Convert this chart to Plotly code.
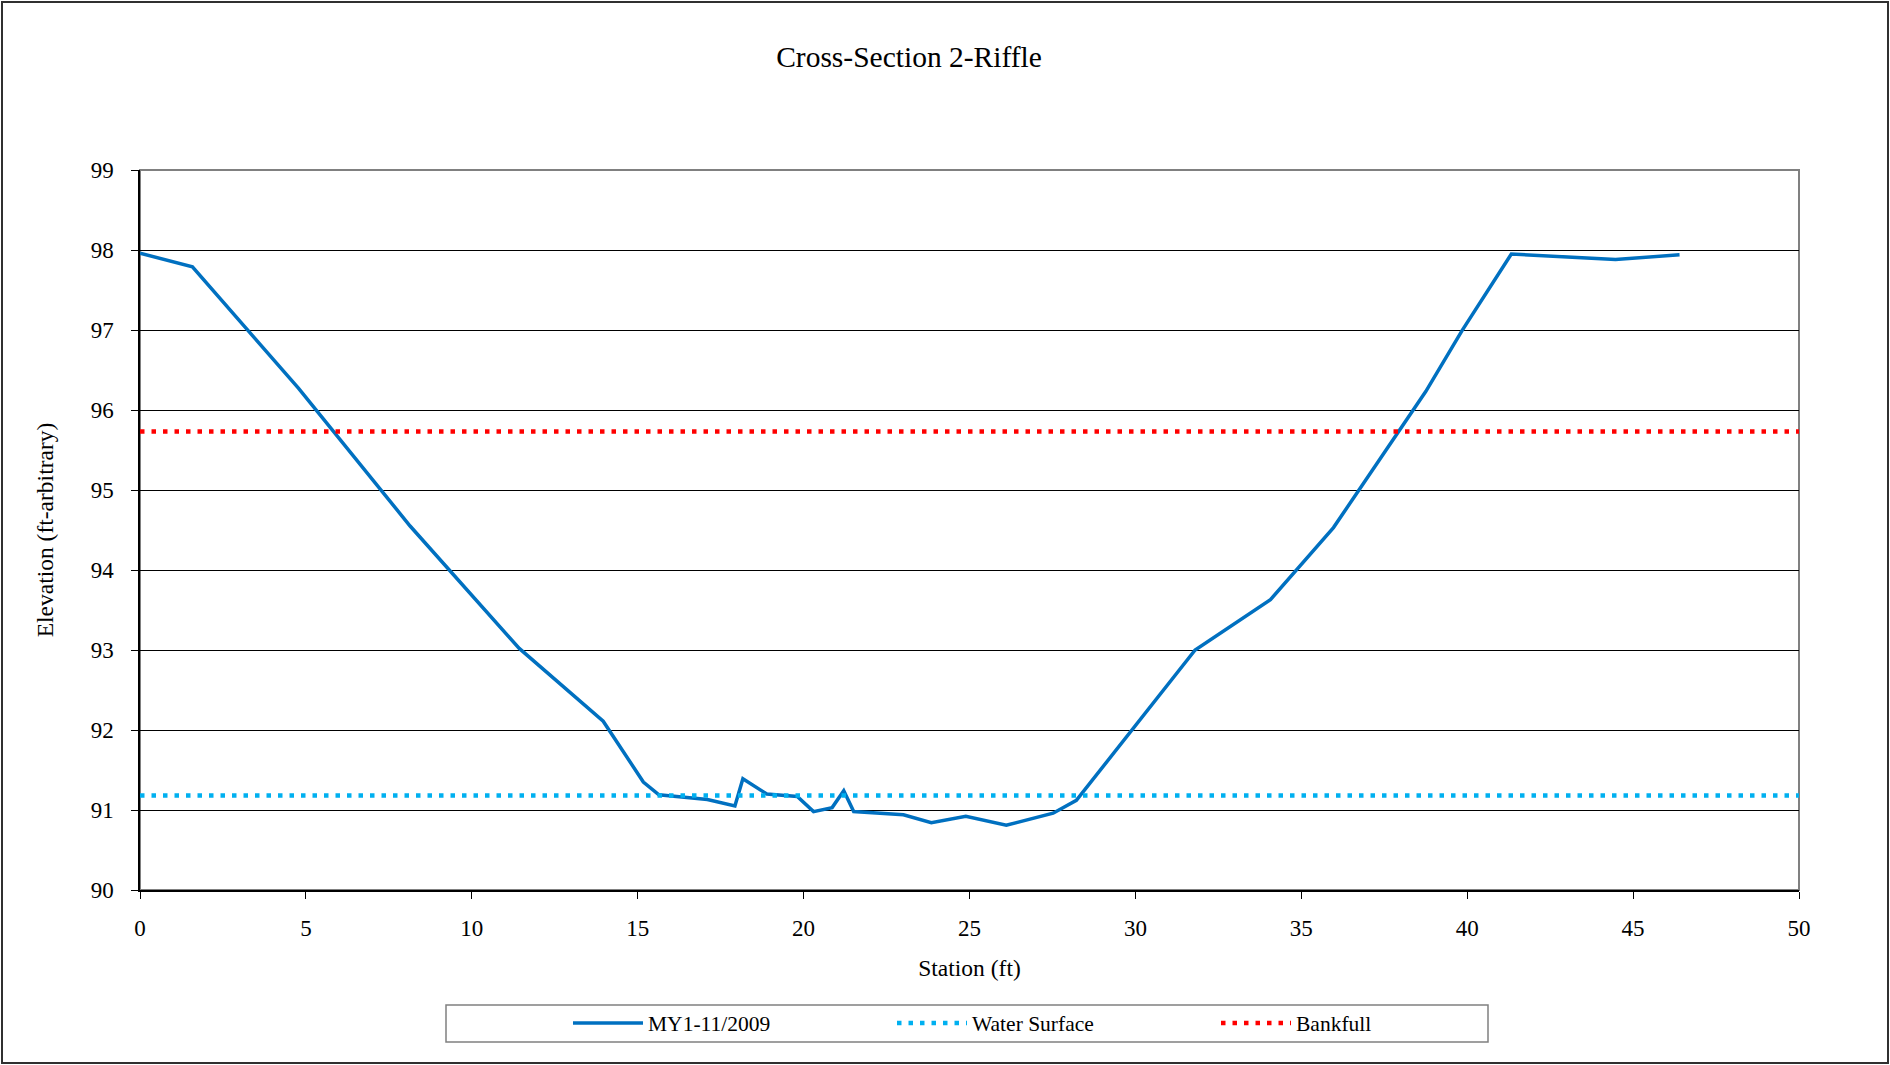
import plotly.graph_objects as go

# Surveyed cross-section (station in ft, elevation in ft-arbitrary)
station = [0.0, 1.58, 4.78, 8.14, 11.43, 13.96, 15.17, 15.64, 17.10, 17.93,
           18.17, 18.89, 19.81, 20.30, 20.86, 21.21, 21.51, 23.01, 23.85, 24.89,
           26.11, 27.52, 28.22, 31.80, 34.07, 35.97, 38.75, 39.84, 41.33, 44.47,
           46.40]
elevation = [97.96, 97.79, 96.27, 94.55, 93.02, 92.11, 91.35, 91.19, 91.13, 91.05,
             91.39, 91.20, 91.17, 90.98, 91.03, 91.24, 90.98, 90.94, 90.84, 90.92,
             90.81, 90.96, 91.12, 93.00, 93.63, 94.53, 96.23, 96.99, 97.95, 97.88,
             97.94]

# Reference levels drawn across the full station range
level_station = [0, 50]
water_surface = [91.18, 91.18]
bankfull = [95.73, 95.73]

x_ticks = [0, 5, 10, 15, 20, 25, 30, 35, 40, 45, 50]
y_ticks = [90, 91, 92, 93, 94, 95, 96, 97, 98, 99]

FONT = "Liberation Serif, Times New Roman, serif"

# plot area in pixels: x 140..1799, y 170..890
L, R, T, B = 140, 91, 170, 175
W, H = 1890, 1065
PW, PH = W - L - R, H - T - B


def px_x(p):
    return (p - L) / PW


def px_y(p):
    return (H - B - p) / PH


fig = go.Figure()
fig.add_trace(go.Scatter(
    x=station, y=elevation, mode="lines", name="MY1-11/2009",
    line=dict(color="#0070C0", width=3.5),
))
fig.add_trace(go.Scatter(
    x=level_station, y=water_surface, mode="lines", name="Water Surface",
    line=dict(color="#00B0F0", width=4.5, dash="4.5px,7px"),
))
fig.add_trace(go.Scatter(
    x=level_station, y=bankfull, mode="lines", name="Bankfull",
    line=dict(color="#FF0000", width=4.5, dash="4.5px,7px"),
))

shapes = [
    # plot-area frame (grey top/right edges)
    dict(type="rect", xref="paper", yref="paper", x0=0, y0=0, x1=1, y1=1,
         line=dict(color="#808080", width=2), layer="below"),
    # legend frame
    dict(type="rect", xref="paper", yref="paper",
         x0=px_x(446), x1=px_x(1488), y0=px_y(1042), y1=px_y(1005),
         line=dict(color="#808080", width=1.5)),
    # chart border
    dict(type="rect", xref="paper", yref="paper",
         x0=px_x(2), x1=px_x(1888), y0=px_y(1063), y1=px_y(2),
         line=dict(color="#303030", width=2)),
]

fig.update_layout(
    width=W, height=H,
    margin=dict(l=L, r=R, t=T, b=B),
    paper_bgcolor="white", plot_bgcolor="white",
    font=dict(family=FONT, color="black", size=23),
    title=dict(text="Cross-Section 2-Riffle", x=909 / W, xref="container",
               y=1 - 57 / H, yref="container", xanchor="center", yanchor="middle",
               font=dict(family=FONT, size=29.5, color="black")),
    xaxis=dict(range=[0, 50], tickvals=x_ticks, showgrid=False, zeroline=False,
               showline=True, linecolor="black", linewidth=2,
               ticks="outside", ticklen=7, tickcolor="black", tickwidth=1,
               ticklabelstandoff=9, tickfont=dict(size=23),
               title=dict(text="Station (ft)", font=dict(size=23.5), standoff=20)),
    yaxis=dict(range=[90, 99], tickvals=y_ticks, showgrid=True, gridcolor="black",
               gridwidth=1, zeroline=False,
               showline=True, linecolor="black", linewidth=1.5,
               ticks="outside", ticklen=7, tickcolor="black", tickwidth=1,
               ticklabelstandoff=13, tickfont=dict(size=23),
               title=dict(text="Elevation (ft-arbitrary)", font=dict(size=23.5), standoff=30)),
    showlegend=True,
    legend=dict(orientation="h", x=px_x(568), xanchor="left",
                y=px_y(1023), yanchor="middle",
                bgcolor="rgba(0,0,0,0)", borderwidth=0,
                font=dict(family=FONT, size=21.5, color="black"),
                itemwidth=70,
                entrywidth=239, entrywidthmode="pixels", traceorder="normal"),
    shapes=shapes,
)

fig.write_html("out.html")
